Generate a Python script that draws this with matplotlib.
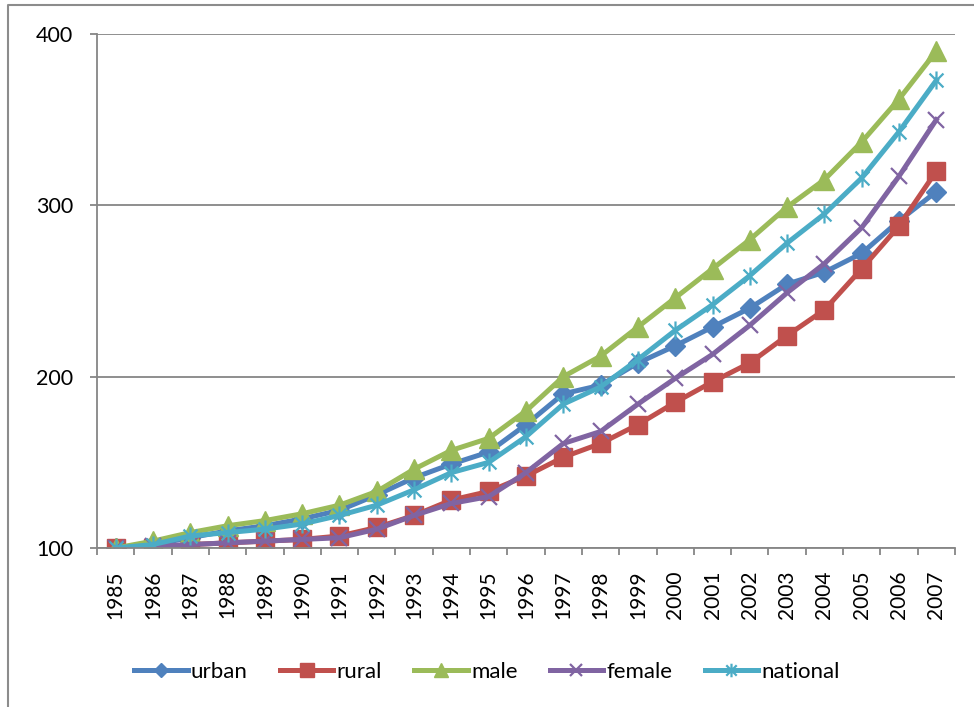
import numpy as np
import matplotlib
matplotlib.use("Agg")
import matplotlib.pyplot as plt
from matplotlib.path import Path
from matplotlib.lines import Line2D

plt.rcParams['font.family'] = ['Lato', 'DejaVu Sans']

years = [str(y) for y in range(1985, 2008)]
urban = [100, 102, 106, 110, 113, 117, 122, 131, 141, 149, 156, 172, 190, 195,
         208, 218, 229, 240, 254, 261, 272, 291, 308]
rural = [100, 100, 102, 103, 104, 105, 107, 112, 119, 128, 133, 142, 153, 161,
         172, 185, 197, 208, 224, 239, 263, 288, 320]
male = [100, 104, 109, 113, 116, 120, 125, 133, 146, 157, 164, 180, 200, 212,
        229, 246, 263, 280, 299, 315, 337, 362, 390]
female = [100, 101, 102, 103, 104, 105, 106, 111, 119, 126, 130, 144, 161, 168,
          184, 199, 213, 230, 249, 266, 287, 317, 350]
national = [100, 102, 107, 109, 111, 114, 119, 125, 134, 144, 150, 165, 184, 194,
            210, 227, 242, 259, 278, 295, 316, 343, 373]

# excel-style asterisk: an x with a vertical stroke through it
star = Path([(-1, -1), (1, 1), (-1, 1), (1, -1), (0, -1.3), (0, 1.3)],
            [Path.MOVETO, Path.LINETO, Path.MOVETO, Path.LINETO, Path.MOVETO, Path.LINETO])

series = [
    ('urban', urban, '#4F81BD', dict(marker='D', ms=10)),
    ('rural', rural, '#C0504D', dict(marker='s', ms=13)),
    ('male', male, '#9BBB59', dict(marker='^', ms=14)),
    ('female', female, '#8064A2', dict(marker='x', ms=12, mew=1.6)),
    ('national', national, '#4BACC6', dict(marker=star, ms=13, mew=1.6)),
]

fig = plt.figure(figsize=(9.74, 7.07), dpi=100)
ax = fig.add_axes([97 / 974, 1 - 548 / 707, 858 / 974, 514 / 707])

x = np.arange(len(years))
for name, vals, col, mk in series:
    ax.plot(x, vals, color=col, lw=3.6, label=name, mfc=col, mec=col, **mk)

grid_col = '#868686'
ax.set_xlim(-0.5, len(years) - 0.5)
ax.set_ylim(100, 400)
ax.set_yticks([100, 200, 300, 400])
ax.yaxis.grid(True, color=grid_col, lw=1.3)
ax.set_axisbelow(True)

ax.set_xticks(x)
ax.set_xticklabels(years, rotation=90, fontsize=15)
ax.set_xticks(np.arange(-0.5, len(years)), minor=True)
ax.tick_params(axis='x', which='major', length=0, pad=16)
ax.tick_params(axis='x', which='minor', length=5, width=1.3, color=grid_col, direction='out')
ax.tick_params(axis='y', length=5, width=1.3, color=grid_col, labelsize=15.5, pad=12)

for s in ['top', 'right']:
    ax.spines[s].set_visible(False)
for s in ['left', 'bottom']:
    ax.spines[s].set_color(grid_col)
    ax.spines[s].set_linewidth(1.3)

leg = fig.legend(loc='center', bbox_to_anchor=(0.5, 1 - 672 / 707), ncol=5,
                 frameon=False, fontsize=16, handlelength=2.4, handletextpad=0.15,
                 columnspacing=1.45, markerscale=0.75)

# outer chart border (left and top edges)
fig.add_artist(Line2D([8 / 974, 8 / 974, 1.0], [0.0, 1 - 5 / 707, 1 - 5 / 707],
                      transform=fig.transFigure, color='#8c8c8c', lw=1.5))

fig.savefig('out.png', dpi=100)
